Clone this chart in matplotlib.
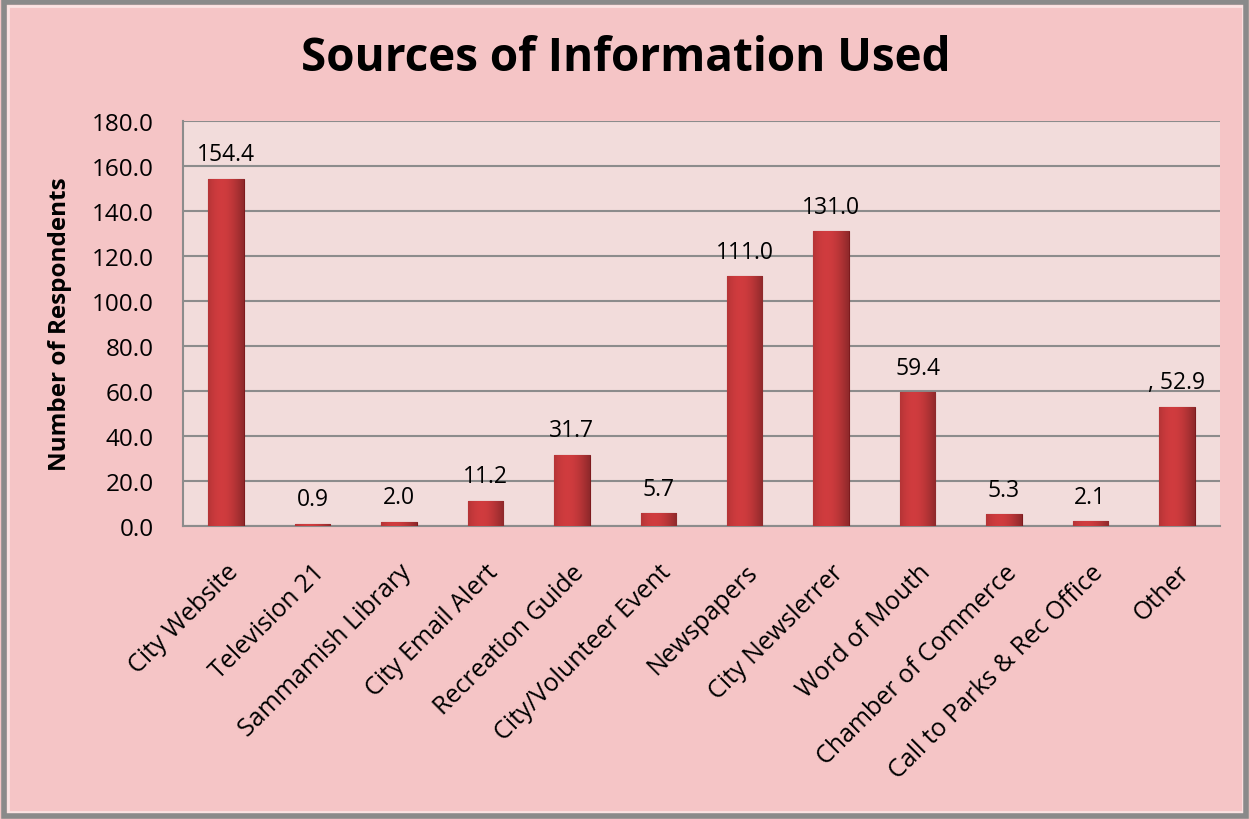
import matplotlib.pyplot as plt
import matplotlib.patches as mpatches
import numpy as np

plt.rcParams['font.family'] = ['Open Sans', 'DejaVu Sans']

categories = ["City Website", "Television 21", "Sammamish Library", "City Email Alert",
              "Recreation Guide", "City/Volunteer Event", "Newspapers", "City Newslerrer",
              "Word of Mouth", "Chamber of Commerce", "Call to Parks & Rec Office", "Other"]
values = [154.4, 0.9, 2.0, 11.2, 31.7, 5.7, 111.0, 131.0, 59.4, 5.3, 2.1, 52.9]
value_labels = ["154.4", "0.9", "2.0", "11.2", "31.7", "5.7", "111.0", "131.0",
                "59.4", "5.3", "2.1", ", 52.9"]
yticks = np.arange(0, 181, 20)

fig = plt.figure(figsize=(12.5, 8.2), dpi=100)
fig.patch.set_facecolor("#F5C5C6")

# beveled frame around the chart
frame = mpatches.Rectangle((0.003, 0.004), 0.994, 0.992, transform=fig.transFigure,
                           fill=False, edgecolor="#8A8A8A", linewidth=4, zorder=10)
fig.patches.append(frame)
hl = mpatches.Rectangle((0.006, 0.009), 0.988, 0.982, transform=fig.transFigure,
                        fill=False, edgecolor="#FBE3E3", linewidth=2, zorder=9)
fig.patches.append(hl)

ax = fig.add_axes([0.1464, 0.3573, 0.8296, 0.4939])
ax.set_facecolor("#F2DCDB")

x = np.arange(len(categories))
bars = ax.bar(x, values, width=0.41, color="#C0393B", edgecolor="#7E1A1D",
              linewidth=0.8, zorder=3)

# horizontal shading on each bar
grad = np.linspace(0, 1, 64)
shade = 0.70 + 0.32 * np.sin(np.pi * (0.2 + 0.8 * grad))
cmap_img = np.zeros((1, 64, 3))
base = np.array([0.80, 0.23, 0.24])
cmap_img[0] = np.clip(base[None, :] * shade[:, None], 0, 1)
for b in bars:
    if b.get_height() <= 0:
        continue
    im = ax.imshow(cmap_img, extent=(b.get_x(), b.get_x() + b.get_width(), 0, b.get_height()),
                   aspect="auto", zorder=3.5)
    im.set_clip_path(b)

for xi, v, lab in zip(x, values, value_labels):
    ax.annotate(lab, (xi, v), xytext=(0, 9), textcoords="offset points",
                ha="center", va="bottom", fontsize=16.5, color="black")

ax.set_xlim(-0.5, len(categories) - 0.5)
ax.set_ylim(0, 180)
ax.set_yticks(yticks)
ax.set_yticklabels([f"{t:.1f}" for t in yticks], fontsize=17.5)
ax.yaxis.grid(True, color="#8C8C8C", linewidth=1.5, zorder=0)
ax.set_axisbelow(True)
ax.tick_params(axis="y", length=0, pad=21)
ax.tick_params(axis="x", length=0, pad=24)
ax.set_xticks(x)
ax.set_xticklabels(categories, rotation=45, ha="right", rotation_mode="anchor", fontsize=18)
for s in ["top", "right"]:
    ax.spines[s].set_visible(False)
ax.spines["left"].set_color("#8C8C8C")
ax.spines["left"].set_linewidth(1.5)
ax.spines["bottom"].set_color("#8C8C8C")
ax.spines["bottom"].set_linewidth(1.5)

ax.set_ylabel("Number of Respondents", fontsize=17.5, fontweight="bold", labelpad=14)
fig.text(0.501, 0.929, "Sources of Information Used", ha="center", va="center",
         fontsize=33, fontweight="bold")

fig.savefig("out.png", dpi=100, facecolor=fig.get_facecolor())
